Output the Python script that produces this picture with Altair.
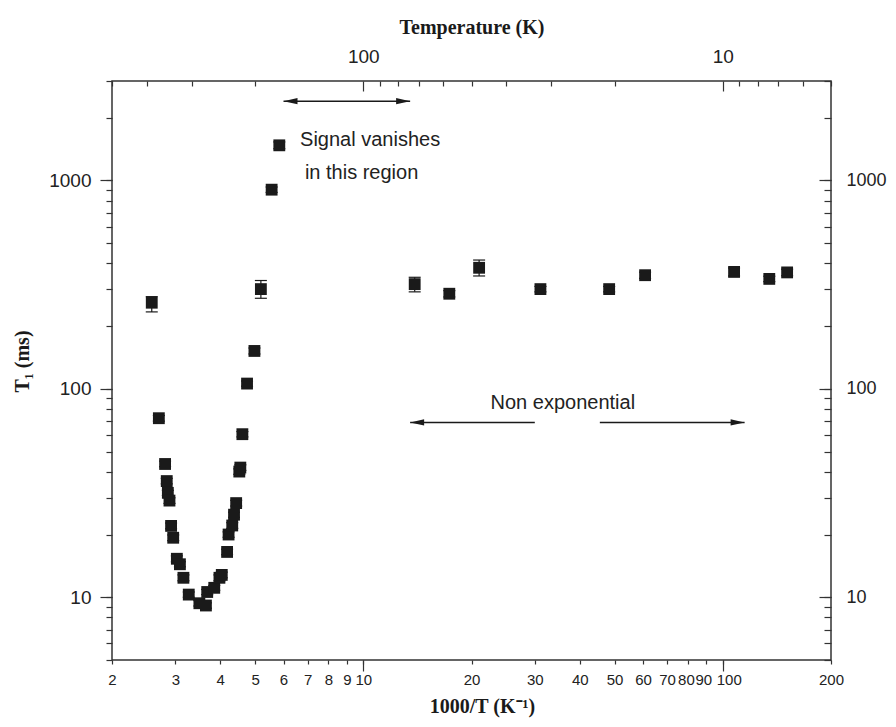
import altair as alt
import pandas as pd

# ---- data ----
inv_T = [2.58, 2.70, 2.81, 2.84, 2.86, 2.89, 2.92, 2.96, 3.03, 3.09, 3.16, 3.27, 3.50, 3.65, 3.68,
         3.85, 3.98, 4.04, 4.18, 4.22, 4.32, 4.37, 4.43, 4.52, 4.55, 4.61, 4.75, 4.98, 5.19, 5.56, 5.84,
         13.9, 17.35, 21.0, 31.1, 48.3, 60.8, 107.5, 134.7, 151]
T1 = [259, 72.3, 43.6, 36.1, 31.7, 29.1, 22.0, 19.3, 15.3, 14.4, 12.4, 10.3, 9.36, 9.13, 10.6,
      11.1, 12.4, 12.8, 16.5, 20.0, 22.1, 24.9, 28.3, 40.1, 41.9, 60.6, 106, 152, 301, 903, 1474,
      318, 286, 381, 301, 301, 351, 364, 337, 362]
T1_lo = [234, 70, 42.3, 35, 30.8, 28.2, 21.3, 18.7, 14.8, 14.0, 12.0, 10.0, 9.08, 8.86, 10.3,
         10.8, 12.0, 12.4, 16.0, 19.4, 21.4, 24.2, 27.4, 38.9, 40.6, 58.8, 103, 147, 272, 876, 1420,
         292, 276, 348, 292, 292, 339, 348, 327, 349]
T1_hi = [277, 74.5, 45, 37.2, 32.6, 30, 22.7, 19.9, 15.8, 14.8, 12.8, 10.6, 9.64, 9.40, 10.9,
         11.4, 12.8, 13.2, 17.0, 20.6, 22.8, 25.6, 29.2, 41.3, 43.2, 62.4, 109, 157, 331, 930, 1530,
         343, 296, 415, 310, 310, 363, 380, 347, 375]

# axis ticks
x_ticks = [2, 3, 4, 5, 6, 7, 8, 9, 10, 20, 30, 40, 50, 60, 70, 80, 90, 100, 200]
x_major = [10, 100]
y_ticks = [5, 6, 7, 8, 9, 10, 20, 30, 40, 50, 60, 70, 80, 90, 100, 200, 300, 400, 500, 600,
           700, 800, 900, 1000, 2000, 3000]
y_major = [10, 100, 1000]
temp_minor = [500, 400, 300, 200, 90, 80, 70, 60, 50, 40, 30, 20, 9, 8, 7, 6, 5]
temp_major = [100, 10]

# annotations
arrow_x1 = [6.0, 13.5, 45.5]
arrow_x2 = [13.5, 30.0, 115]
arrow_y = [2400, 69, 69]
head_x = [6.0, 13.5, 13.5, 115]
head_y = [2400, 2400, 69, 69]
head_dir = ["left", "right", "left", "right"]
note_left_text = ["Signal vanishes", "in this region"]
note_left_x = [6.67, 6.88]
note_left_y = [1570, 1080]
note_center_text = ["Non exponential"]
note_center_x = [35.9]
note_center_y = [86]

df = pd.DataFrame({"x": inv_T, "y": T1, "lo": T1_lo, "hi": T1_hi})
arrows = pd.DataFrame({"x1": arrow_x1, "x2": arrow_x2, "y": arrow_y})
heads = pd.DataFrame({"x": head_x, "y": head_y, "dir": head_dir})
notes_l = pd.DataFrame({"x": note_left_x, "y": note_left_y, "t": note_left_text})
notes_c = pd.DataFrame({"x": note_center_x, "y": note_center_y, "t": note_center_text})

temp_minor_inv = [1000.0 / t for t in temp_minor]
temp_major_inv = [1000.0 / t for t in temp_major]

xs = alt.Scale(type="log", domain=[2, 200], nice=False)
ys = alt.Scale(type="log", domain=[5, 3000], nice=False)

INK = "#1a1a1a"
LABEL_FONT = "Liberation Sans"
TITLE_FONT = "Liberation Serif"

# squeeze the crowded 80 / 90 / 100 labels like the original
bottom_label_offset = {
    "condition": [
        {"test": "datum.value == 80", "value": -2},
        {"test": "datum.value == 90", "value": -3},
        {"test": "datum.value == 100", "value": 6},
    ],
    "value": 0,
}

# bottom axis (all labelled) + left major axis with titles
ax_bottom = alt.Axis(orient="bottom", values=x_ticks, format="d", tickSize=4, labelPadding=8,
                     labelFontSize=15, labelOverlap=False, labelFlush=False, domain=False,
                     labelOffset=bottom_label_offset,
                     grid=False, title="1000/T (K⁻¹)", titleFont=TITLE_FONT, titleFontSize=20,
                     titleFontWeight="bold", titlePadding=9, titleX=370, titleColor=INK)
ax_left = alt.Axis(orient="left", values=y_major, format="d", tickSize=12, labelPadding=9,
                   labelFontSize=19, domain=False, grid=False, title="T₁ (ms)",
                   titleFont=TITLE_FONT, titleFontSize=20, titleFontWeight="bold",
                   titlePadding=16, titleY=280, titleColor=INK)
ax_bottom_major = alt.Axis(orient="bottom", values=x_major, tickSize=11, labels=False,
                           domain=False, grid=False, title=None)
ax_left_minor = alt.Axis(orient="left", values=y_ticks, tickSize=6, labels=False,
                         domain=False, grid=False, title=None)
ax_top_minor = alt.Axis(orient="top", values=temp_minor_inv, offset=-5, tickSize=5,
                        labels=False, domain=False, grid=False, title=None)
ax_right_minor = alt.Axis(orient="right", values=y_ticks, offset=-7, tickSize=7,
                          labels=False, domain=False, grid=False, title=None)
ax_top_major = alt.Axis(orient="top", values=temp_major_inv, offset=-10, tickSize=10,
                        labelExpr="format(1000/datum.value, 'd')", labelPadding=15,
                        labelFontSize=19, labelFlush=False, domain=False, grid=False,
                        title="Temperature (K)", titleFont=TITLE_FONT, titleFontSize=20,
                        titleFontWeight="bold", titlePadding=10, titleColor=INK)
ax_right_major = alt.Axis(orient="right", values=y_major, format="d", offset=-12, tickSize=12,
                          labelPadding=15, labelFontSize=18, domain=False, grid=False,
                          title=None)

base = alt.Chart(df)

errbars = base.mark_rule(color=INK, strokeWidth=1.2).encode(
    x=alt.X("x:Q", scale=xs, axis=ax_bottom_major),
    y=alt.Y("lo:Q", scale=ys, axis=ax_left_minor),
    y2="hi:Q",
)
caps_lo = base.mark_tick(orient="horizontal", size=12, thickness=1.2, color=INK, opacity=1).encode(
    x=alt.X("x:Q", scale=xs, axis=ax_top_minor),
    y=alt.Y("lo:Q", scale=ys, axis=ax_right_minor),
)
caps_hi = base.mark_tick(orient="horizontal", size=12, thickness=1.2, color=INK, opacity=1).encode(
    x=alt.X("x:Q", scale=xs, axis=ax_top_major),
    y=alt.Y("hi:Q", scale=ys, axis=ax_right_major),
)
points = base.mark_point(shape="square", filled=True, size=140, color=INK, opacity=1).encode(
    x=alt.X("x:Q", scale=xs, axis=ax_bottom),
    y=alt.Y("y:Q", scale=ys, axis=ax_left),
)

arrow_lines = alt.Chart(arrows).mark_rule(color=INK, strokeWidth=1.5).encode(
    x=alt.X("x1:Q", scale=xs, axis=None),
    x2="x2:Q",
    y=alt.Y("y:Q", scale=ys, axis=None),
)
left_head = "M0,0 L1,-0.22 L1,0.22 Z"
right_head = "M0,0 L-1,-0.22 L-1,0.22 Z"
arrow_heads = alt.Chart(heads).mark_point(filled=True, size=784, color=INK, opacity=1).encode(
    x=alt.X("x:Q", scale=xs, axis=None),
    y=alt.Y("y:Q", scale=ys, axis=None),
    shape=alt.Shape("dir:N", scale=alt.Scale(domain=["left", "right"],
                                             range=[left_head, right_head]), legend=None),
)
text_l = alt.Chart(notes_l).mark_text(align="left", baseline="middle", font=LABEL_FONT,
                                      fontSize=20, color="#222").encode(
    x=alt.X("x:Q", scale=xs, axis=None),
    y=alt.Y("y:Q", scale=ys, axis=None),
    text="t:N",
)
text_c = alt.Chart(notes_c).mark_text(align="center", baseline="middle", font=LABEL_FONT,
                                      fontSize=20, color="#222").encode(
    x=alt.X("x:Q", scale=xs, axis=None),
    y=alt.Y("y:Q", scale=ys, axis=None),
    text="t:N",
)

chart = alt.layer(
    errbars, caps_lo, caps_hi, points, arrow_lines, arrow_heads, text_l, text_c
).resolve_axis(x="independent", y="independent").properties(
    width=719, height=579,
    padding={"left": 104, "top": 73, "right": 57, "bottom": 59},
    autosize=alt.AutoSizeParams(type="none"),
).configure_view(
    stroke="#333", strokeWidth=1.5
).configure_axis(
    labelFont=LABEL_FONT, labelColor="#222", tickColor="#333", tickWidth=1.2
)

chart.save("out.html", embed_options={"renderer": "svg", "actions": False})
